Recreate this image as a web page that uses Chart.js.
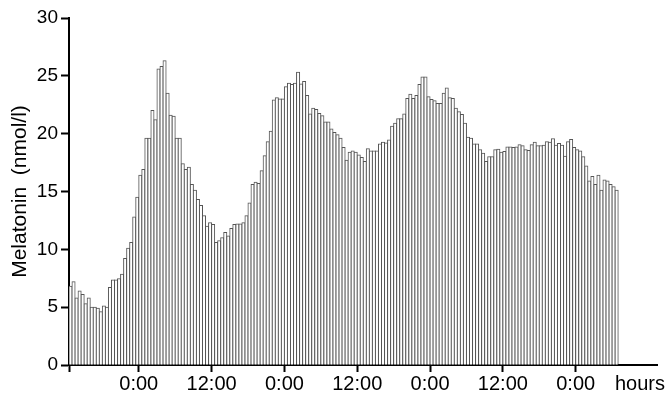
<!DOCTYPE html>
<html><head><meta charset="utf-8">
<script src="https://cdn.jsdelivr.net/npm/chart.js@4.4.0/dist/chart.umd.min.js"></script>
<style>html,body{margin:0;padding:0;background:#fff;} #wrap{width:670px;height:397px;}</style>
</head><body><div id="wrap"><canvas id="c" width="670" height="397"></canvas></div>
<script>
// Melatonin (nmol/l), 30-minute bins starting 12:30
const melatonin = [
  6.8, 7.2, 5.8, 6.4, 6.1, 5.3, 5.8, 5.0, 5.0, 4.9,
  4.6, 5.1, 5.0, 6.7, 7.35, 7.35, 7.45, 7.85, 9.2, 10.1,
  10.6, 12.8, 14.5, 16.4, 16.9, 19.6, 19.6, 22.0, 21.2, 25.6,
  25.8, 26.3, 23.5, 21.6, 21.5, 19.6, 19.6, 17.4, 16.9, 17.1,
  15.6, 15.1, 14.3, 13.8, 12.9, 12.0, 12.3, 12.15, 10.6, 10.75,
  11.0, 11.45, 11.15, 11.8, 12.15, 12.2, 12.2, 12.3, 12.9, 14.0,
  15.6, 15.8, 15.7, 16.8, 18.1, 19.3, 20.2, 22.9, 23.1, 23.0,
  23.0, 24.05, 24.35, 24.25, 24.35, 25.3, 24.3, 24.5, 23.3, 21.7,
  22.2, 22.1, 21.75, 21.55, 21.0, 21.0, 20.4, 20.1, 19.9, 19.6,
  18.8, 17.7, 18.4, 18.5, 18.4, 18.15, 17.95, 17.6, 18.7, 18.5,
  18.5, 18.5, 19.1, 19.25, 19.2, 19.45, 20.65, 20.9, 21.3, 21.3,
  21.7, 23.05, 23.4, 23.05, 23.3, 24.25, 24.9, 24.9, 23.2, 22.95,
  22.85, 22.6, 22.6, 23.5, 23.95, 23.1, 23.05, 22.2, 21.9, 21.65,
  20.9, 19.7, 19.6, 19.1, 19.1, 18.6, 18.3, 17.6, 18.0, 18.0,
  18.6, 18.65, 18.4, 18.45, 18.85, 18.85, 18.8, 18.85, 19.05, 18.95,
  18.6, 18.55, 19.05, 19.25, 18.95, 18.95, 19.0, 19.3, 19.25, 19.55,
  19.0, 19.15, 19.0, 18.05, 19.3, 19.5, 18.8, 18.6, 18.5, 18.0,
  17.2, 15.9, 16.3, 15.6, 16.4, 15.1, 16.0, 15.9, 15.6, 15.4,
  15.1
];
const binHours = 0.5;
const tickHours = [0, 11.5, 23.5, 35.5, 47.5, 59.5, 71.5, 83.5];
const tickLabels = ['', '0:00', '12:00', '0:00', '12:00', '0:00', '12:00', '0:00'];
const unitLabel = 'hours';
const unitAt = 94.1;
const axisEnd = 96.9;
const yMin = 0, yMax = 30, yStep = 5;

const allTicks = tickHours.concat([unitAt]);
const allLabels = tickLabels.concat([unitLabel]);
const FONT = "'Liberation Sans', Arial, sans-serif";

new Chart(document.getElementById('c'), {
  type: 'bar',
  data: {
    datasets: [{
      data: melatonin.map((v, i) => ({ x: (i + 0.5) * binHours, y: v })),
      backgroundColor: '#ffffff',
      borderColor: '#555555',
      borderWidth: 1,
      borderSkipped: 'bottom',
      barPercentage: 1,
      categoryPercentage: 1,
      inflateAmount: 0.5
    }]
  },
  options: {
    responsive: false,
    animation: false,
    devicePixelRatio: 1,
    layout: { padding: { top: 18, right: 13, left: 0, bottom: 0 } },
    plugins: { legend: { display: false }, tooltip: { enabled: false } },
    scales: {
      x: {
        type: 'linear',
        min: 0,
        max: axisEnd,
        offset: false,
        grid: {
          offset: false,
          drawOnChartArea: false,
          drawTicks: true,
          tickLength: 7,
          tickWidth: 2,
          tickColor: ctx => (ctx.index === allTicks.length - 1 ? 'rgba(0,0,0,0)' : '#000')
        },
        border: { display: true, color: '#000', width: 2 },
        ticks: {
          autoSkip: false,
          maxRotation: 0,
          minRotation: 0,
          padding: 0,
          color: '#000',
          font: { family: FONT, size: 20 },
          callback: (v, i) => allLabels[i]
        },
        afterBuildTicks: s => { s.ticks = allTicks.map(v => ({ value: v })); },
        afterFit: s => { s.height = 32; }
      },
      y: {
        min: yMin,
        max: yMax,
        ticks: { stepSize: yStep, padding: 3, color: '#000', font: { family: FONT, size: 19 } },
        grid: { drawOnChartArea: false, tickLength: 8, tickWidth: 2, tickColor: '#000' },
        border: { display: true, color: '#000', width: 2 },
        title: {
          display: true,
          text: 'Melatonin  (nmol/l)',
          color: '#000',
          font: { family: FONT, size: 21 },
          padding: { top: 8, bottom: 0 }
        },
        afterFit: s => { s.width = 69; }
      }
    }
  }
});
</script>
</body></html>
